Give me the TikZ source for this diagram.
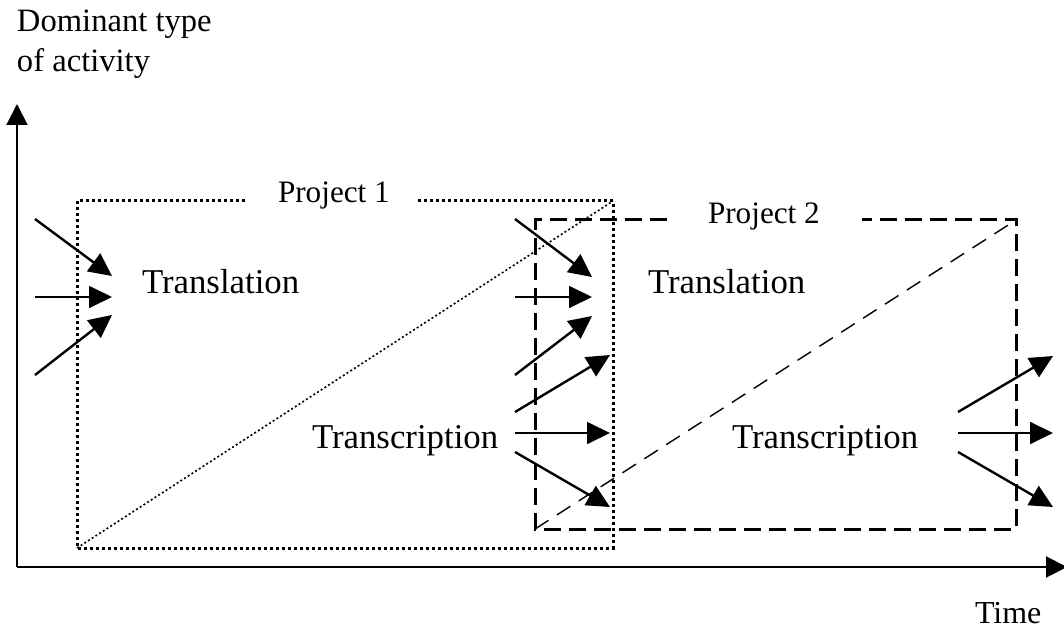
\documentclass[tikz,border=0pt]{standalone}
\usepackage{fontspec}
\setmainfont{Liberation Serif}
\usetikzlibrary{arrows.meta}
\begin{document}
\begin{tikzpicture}[x=0.5pt,y=-0.5pt,
  lbl/.style={anchor=base west,inner sep=0pt,outer sep=0pt},
  big/.style={lbl,font=\fontsize{17.4}{20}\selectfont},
  small/.style={lbl,font=\fontsize{15.6}{18}\selectfont},
  axis/.style={line width=1pt,-{Triangle[length=10.5pt,width=10.5pt]}},
  flow/.style={line width=1.2pt,-{Triangle[length=11.5pt,width=11pt]}},
  hflow/.style={line width=0.9pt,-{Triangle[length=11.5pt,width=11pt]}},
  proj1/.style={line width=1.5pt,dash pattern=on 1.5pt off 1.5pt},
  proj2/.style={line width=1.5pt,dash pattern=on 8.5pt off 4pt},
  diag1/.style={line width=0.8pt,dash pattern=on 1pt off 1.2pt},
  diag2/.style={line width=0.7pt,dash pattern=on 8pt off 5pt}]
\useasboundingbox (0,0) rectangle (1064,636);

% axes
\coordinate (O) at (17,567);
\coordinate (Ytip) at (17,104);
\coordinate (Xtip) at (1067,567);
\draw[axis] (O) -- (Ytip);
\draw[axis] (O) -- (Xtip);
\node[small,font=\fontsize{16.3}{20}\selectfont] (ylab1) at (17,32) {Dominant type};
\node[small,font=\fontsize{16.3}{20}\selectfont] (ylab2) at (17,72) {of activity};
\node[small,font=\fontsize{16}{20}\selectfont] (xlab) at (975,623) {Time};

% Project 1 (dotted)
\node[small] (p1) at (278,203) {Project 1};
\coordinate (p1a) at (245,201);
\coordinate (p1tl) at (77,201);
\coordinate (p1bl) at (77,548);
\coordinate (p1br) at (613,548);
\coordinate (p1tr) at (613,201);
\coordinate (p1b) at (418,201);
\draw[proj1] (p1a) -- (p1tl) -- (p1bl) -- (p1br) -- (p1tr) -- (p1b);
\draw[diag1] (p1bl) -- (p1tr);

% Project 2 (dashed)
\node[small] (p2) at (708,223) {Project 2};
\coordinate (p2a) at (667,220);
\coordinate (p2tl) at (535,220);
\coordinate (p2bl) at (535,529);
\coordinate (p2br) at (1016,529);
\coordinate (p2tr) at (1016,220);
\coordinate (p2b) at (862,220);
\draw[proj2] (p2a) -- (p2tl) -- (p2bl) -- (p2br) -- (p2tr) -- (p2b);
\draw[diag2] (p2bl) -- (p2tr);

% labels
\node[big] (tl1) at (142,293) {Translation};
\node[big] (tl2) at (648,293) {Translation};
\node[big] (tc1) at (312,448) {Transcription};
\node[big] (tc2) at (732,448) {Transcription};

% left inputs
\coordinate (a1s) at (35,219); \coordinate (a1e) at (112,276);
\coordinate (a2s) at (35,297); \coordinate (a2e) at (112,297);
\coordinate (a3s) at (35,375); \coordinate (a3e) at (112,315);
\draw[flow] (a1s) -- (a1e);
\draw[hflow] (a2s) -- (a2e);
\draw[flow] (a3s) -- (a3e);

% project 2 translation inputs
\coordinate (b1s) at (515,219); \coordinate (b1e) at (592,277);
\coordinate (b2s) at (515,297); \coordinate (b2e) at (592,297);
\coordinate (b3s) at (515,375); \coordinate (b3e) at (592,316);
\draw[flow] (b1s) -- (b1e);
\draw[hflow] (b2s) -- (b2e);
\draw[flow] (b3s) -- (b3e);

% project 1 transcription outputs
\coordinate (c1s) at (515,412); \coordinate (c1e) at (610,355);
\coordinate (c2s) at (515,433); \coordinate (c2e) at (610,433);
\coordinate (c3s) at (515,452); \coordinate (c3e) at (610,507);
\draw[flow] (c1s) -- (c1e);
\draw[hflow] (c2s) -- (c2e);
\draw[flow] (c3s) -- (c3e);

% project 2 transcription outputs
\coordinate (d1s) at (958,412); \coordinate (d1e) at (1053,356);
\coordinate (d2s) at (958,433); \coordinate (d2e) at (1053,433);
\coordinate (d3s) at (958,452); \coordinate (d3e) at (1053,507);
\draw[flow] (d1s) -- (d1e);
\draw[hflow] (d2s) -- (d2e);
\draw[flow] (d3s) -- (d3e);
\end{tikzpicture}
\end{document}
